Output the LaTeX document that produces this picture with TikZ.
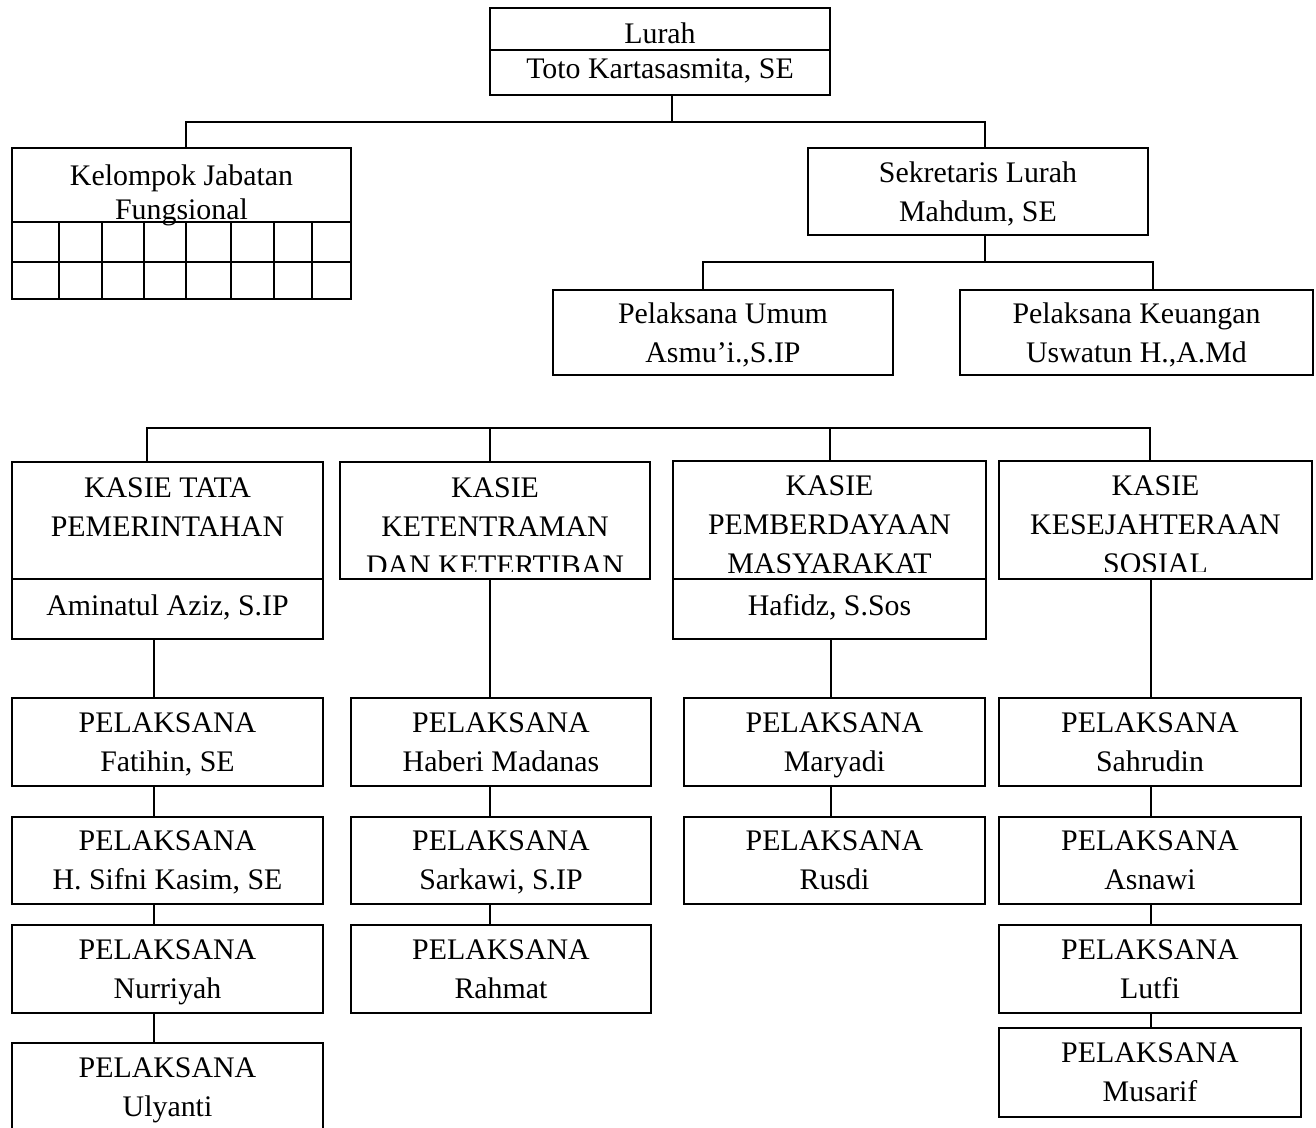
\documentclass[tikz,border=0pt]{standalone}
\usepackage{fontspec}
\setmainfont{Liberation Serif}
\newcommand{\orgfont}{\fontsize{17}{22.2}\selectfont}

\begin{document}
\begin{tikzpicture}[
        x=0.02cm, y=-0.02cm, % satu satuan = satu piksel
        line width=1pt,
        kotak/.style={draw, rectangle, inner sep=0pt}, % kotak jabatan
        tulisan/.style={align=center, inner sep=0pt, text depth=0pt, font=\orgfont}, % teks di dalam kotak
        pelaksana/.style={kotak, tulisan, minimum height=1.76cm},
    ]
    \useasboundingbox (0,0) rectangle (1316,1128);
    \clip (0,0) rectangle (1316,1128);

    % Lurah
    \node[kotak, minimum width=6.8cm, minimum height=1.74cm] (lurah) at (660,51.5) {};
    \node[tulisan] (lurahJ) at (660,33) {Lurah};
    \node[tulisan] (lurahN) at (660,69) {Toto Kartasasmita, SE};
    \draw (lurah.west |- 0,50) -- (lurah.east |- 0,50);

    % Kelompok Jabatan Fungsional
    \node[kotak, minimum width=6.78cm, minimum height=3.02cm] (kel) at (181.5,223.5) {};
    \node[tulisan, font=\fontsize{17}{19.5}\selectfont] (kelT) at (181.5,192) {Kelompok Jabatan\\Fungsional};
    \draw (kel.west |- 0,222) -- (kel.east |- 0,222);
    \draw (kel.west |- 0,262) -- (kel.east |- 0,262);
    \foreach \gx in {59,102,144,186,231,274,312}
        \draw (\gx,222) -- (\gx,299);

    % Sekretaris dan pelaksana
    \node[kotak, tulisan, minimum width=6.8cm, minimum height=1.74cm] (sek) at (978,191.5) {Sekretaris Lurah\\Mahdum, SE};
    \node[pelaksana, minimum width=6.8cm, minimum height=1.7cm] (umum) at (723,332.5) {Pelaksana Umum\\Asmu’i.,S.IP};
    \node[pelaksana, minimum width=7.06cm, minimum height=1.7cm] (keu) at (1136.5,332.5) {Pelaksana Keuangan\\Uswatun H.,A.Md};

    \coordinate (b1) at (672,122);
    \draw (lurah.south -| b1) -- (b1);
    \draw (kel.north -| 186,0) |- (b1) -| (sek.north -| 985,0);
    \coordinate (b2) at (985,262);
    \draw (sek.south -| b2) -- (b2);
    \draw (umum.north -| 703,0) |- (b2) -| (keu.north -| 1153,0);

    % Kasie
    \node[kotak, minimum width=6.22cm, minimum height=3.54cm] (k1) at (167.5,550.5) {};
    \node[tulisan] (k1J) at (167.5,507.5) {KASIE TATA\\PEMERINTAHAN};
    \draw (k1.west |- 0,579) -- (k1.east |- 0,579);
    \node[tulisan] (k1N) at (167.5,605) {Aminatul Aziz, S.IP};

    \node[kotak, minimum width=6.2cm, minimum height=2.34cm] (k2) at (495,520.5) {};
    \begin{scope}
        \clip (k2.north west) rectangle (k2.east |- 0,572);
        \node[tulisan] (k2J) at (495,527) {KASIE\\KETENTRAMAN\\DAN KETERTIBAN};
    \end{scope}

    \node[kotak, minimum width=6.26cm, minimum height=3.56cm] (k3) at (829.5,550) {};
    \begin{scope}
        \clip (k3.north west) rectangle (k3.east |- 0,573);
        \node[tulisan] (k3J) at (829.5,525) {KASIE\\PEMBERDAYAAN\\MASYARAKAT};
    \end{scope}
    \draw (k3.west |- 0,579) -- (k3.east |- 0,579);
    \node[tulisan] (k3N) at (829.5,605) {Hafidz, S.Sos};

    \node[kotak, minimum width=6.26cm, minimum height=2.36cm] (k4) at (1155.5,520) {};
    \begin{scope}
        \clip (k4.north west) rectangle (k4.east |- 0,572);
        \node[tulisan] (k4J) at (1155.5,525) {KASIE\\KESEJAHTERAAN\\SOSIAL};
    \end{scope}

    \coordinate (b3) at (147,428);
    \draw (k1.north -| b3) -- (b3) -| (k4.north -| 1150,0);
    \draw (k2.north -| 490,0) -- (b3 -| 490,0);
    \draw (k3.north -| 830,0) -- (b3 -| 830,0);

    % Pelaksana tiap seksi
    \node[pelaksana, minimum width=6.22cm] (p11) at (167.5,742) {PELAKSANA\\Fatihin, SE};
    \node[pelaksana, minimum width=6.22cm, minimum height=1.74cm] (p12) at (167.5,860.5) {PELAKSANA\\H. Sifni Kasim, SE};
    \node[pelaksana, minimum width=6.22cm] (p13) at (167.5,969) {PELAKSANA\\Nurriyah};
    \node[pelaksana, minimum width=6.22cm] (p14) at (167.5,1087) {PELAKSANA\\Ulyanti};

    \node[pelaksana, minimum width=6cm] (p21) at (501,742) {PELAKSANA\\Haberi Madanas};
    \node[pelaksana, minimum width=6cm, minimum height=1.74cm] (p22) at (501,860.5) {PELAKSANA\\Sarkawi, S.IP};
    \node[pelaksana, minimum width=6cm] (p23) at (501,969) {PELAKSANA\\Rahmat};

    \node[pelaksana, minimum width=6.02cm] (p31) at (834.5,742) {PELAKSANA\\Maryadi};
    \node[pelaksana, minimum width=6.02cm, minimum height=1.74cm] (p32) at (834.5,860.5) {PELAKSANA\\Rusdi};

    \node[pelaksana, minimum width=6.04cm] (p41) at (1150,742) {PELAKSANA\\Sahrudin};
    \node[pelaksana, minimum width=6.04cm, minimum height=1.74cm] (p42) at (1150,860.5) {PELAKSANA\\Asnawi};
    \node[pelaksana, minimum width=6.04cm] (p43) at (1150,969) {PELAKSANA\\Lutfi};
    \node[pelaksana, minimum width=6.04cm, minimum height=1.78cm] (p44) at (1150,1072.5) {PELAKSANA\\Musarif};

    \coordinate (c1) at (154,0);
    \coordinate (c2) at (490,0);
    \coordinate (c3) at (831,0);
    \coordinate (c4) at (1151,0);
    \draw (k1.south -| c1) -- (p11.north -| c1);
    \draw (p11.south -| c1) -- (p12.north -| c1);
    \draw (p12.south -| c1) -- (p13.north -| c1);
    \draw (p13.south -| c1) -- (p14.north -| c1);
    \draw (k2.south -| c2) -- (p21.north -| c2);
    \draw (p21.south -| c2) -- (p22.north -| c2);
    \draw (p22.south -| c2) -- (p23.north -| c2);
    \draw (k3.south -| c3) -- (p31.north -| c3);
    \draw (p31.south -| c3) -- (p32.north -| c3);
    \draw (k4.south -| c4) -- (p41.north -| c4);
    \draw (p41.south -| c4) -- (p42.north -| c4);
    \draw (p42.south -| c4) -- (p43.north -| c4);
    \draw (p43.south -| c4) -- (p44.north -| c4);
\end{tikzpicture}
\end{document}
